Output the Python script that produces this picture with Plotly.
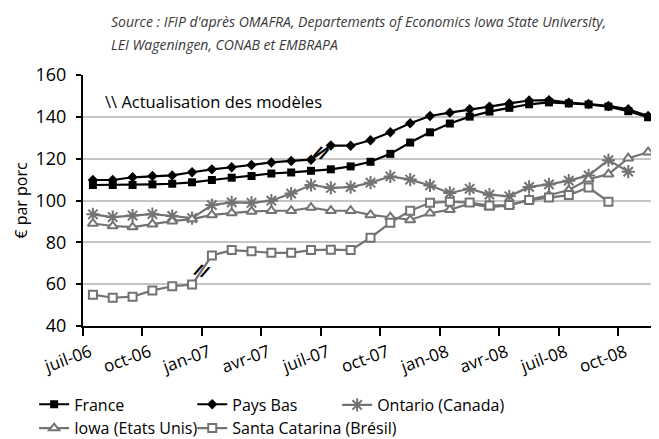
import plotly.graph_objects as go

months = ["juil-06", "août-06", "sept-06", "oct-06", "nov-06", "déc-06",
          "jan-07", "févr-07", "mars-07", "avr-07", "mai-07", "juin-07",
          "juil-07", "août-07", "sept-07", "oct-07", "nov-07", "déc-07",
          "jan-08", "févr-08", "mars-08", "avr-08", "mai-08", "juin-08",
          "juil-08", "août-08", "sept-08", "oct-08", "nov-08"]
tick_labels = ["juil-06", "oct-06", "jan-07", "avr-07", "juil-07", "oct-07",
               "jan-08", "avr-08", "juil-08", "oct-08"]

france = [107.4, 107.4, 107.4, 107.7, 108.0, 108.7, 109.8, 110.9, 111.7, 112.9,
          113.4, 114.2, 114.9, 116.3, 118.5, 122.3, 127.7, 132.6, 136.8, 140.1,
          142.5, 144.3, 146.0, 146.9, 146.4, 145.9, 144.9, 142.7, 139.8]
pays_bas = [109.8, 109.8, 111.1, 111.7, 112.0, 113.5, 114.9, 115.9, 117.0, 118.2,
            118.9, 119.5, 126.3, 126.2, 128.8, 132.6, 136.9, 140.4, 142.0, 143.6,
            144.9, 146.4, 147.8, 148.0, 146.8, 146.1, 145.2, 143.6, 140.4]
ontario = [93.4, 92.1, 92.8, 93.5, 92.6, 91.6, 97.8, 99.1, 98.9, 99.9,
           103.3, 107.4, 106.0, 106.4, 108.5, 111.5, 110.0, 107.2, 103.6, 105.6,
           102.8, 102.0, 106.5, 107.7, 109.5, 112.0, 119.3, 113.8, None]
iowa = [89.0, 87.8, 87.3, 88.7, 90.1, 91.1, 93.1, 94.0, 94.8, 95.1,
        95.1, 96.6, 95.1, 95.1, 93.1, 92.0, 90.7, 93.9, 95.6, 98.5,
        96.8, 97.6, 100.5, 102.5, 105.0, 110.2, 112.6, 120.2, 123.1]
santa_catarina = [55.0, 53.5, 54.0, 57.0, 59.0, 59.8, 73.7, 76.3, 75.7, 75.0,
                  75.0, 76.3, 76.5, 76.3, 82.2, 89.4, 95.1, 98.9, 99.4, 99.0,
                  97.6, 97.8, 100.2, 101.4, 102.6, 106.2, 99.4, None, None]

source_lines = ["Source : IFIP d'après OMAFRA, Departements of Economics Iowa State University,",
                "LEI Wageningen, CONAB et EMBRAPA"]
note_text = "\\\\ Actualisation des modèles"
y_title = "€ par porc"

FONT = "Open Sans"
GRAY = "#737373"

x = [i + 0.5 for i in range(len(months))]
tick_pos = [months.index(t) for t in tick_labels]

series = [
    ("France", france, dict(symbol="square", size=8, color="black"), "black", "legend"),
    ("Pays Bas", pays_bas, dict(symbol="diamond", size=8, color="black"), "black", "legend2"),
    ("Ontario (Canada)", ontario, dict(symbol="asterisk-open", size=11, color=GRAY,
                                       line=dict(color=GRAY, width=2)), GRAY, "legend3"),
    ("Iowa (Etats Unis)", iowa, dict(symbol="triangle-up", size=9, color="white",
                                      line=dict(color=GRAY, width=2)), GRAY, "legend"),
    ("Santa Catarina (Brésil)", santa_catarina, dict(symbol="square", size=8, color="white",
                                                     line=dict(color=GRAY, width=2)), GRAY, "legend2"),
]

fig = go.Figure()
for name, vals, marker, col, lg in series:
    fig.add_trace(go.Scatter(x=x, y=vals, name=name, mode="lines+markers",
                             line=dict(color=col, width=2.2), marker=marker,
                             legend=lg, cliponaxis=False))

# break marks (model update) between two consecutive months
breaks = [(pays_bas, 12), (santa_catarina, 6)]
for vals, idx in breaks:
    fig.add_annotation(x=idx, y=(vals[idx - 1] + vals[idx]) / 2, xref="x", yref="y",
                       text="<b>//</b>", showarrow=False, textangle=20,
                       font=dict(family=FONT, size=17, color="black"))

fig.add_annotation(xref="paper", yref="paper", x=0.035, y=0.896, xanchor="left",
                   yanchor="middle", text=note_text, showarrow=False,
                   font=dict(family=FONT, size=16.5, color="black"))
for ypos, line in zip([1.212, 1.122], source_lines):
    fig.add_annotation(xref="paper", yref="paper", x=0.045, y=ypos, xanchor="left",
                       yanchor="middle", text="<i>" + line + "</i>", showarrow=False,
                       font=dict(family=FONT, size=14, color="#3a3a3a"))

leg = dict(orientation="v", yanchor="middle", xanchor="left", y=-0.36,
           font=dict(family=FONT, size=16), bgcolor="rgba(0,0,0,0)",
           tracegroupgap=0, borderwidth=0)

# page body adds an 8px offset: figure is 8px smaller, margins shifted accordingly
fig.update_layout(
    width=651, height=431,
    margin=dict(l=75, r=1, t=67, b=113, autoexpand=False),
    paper_bgcolor="white", plot_bgcolor="white",
    font=dict(family=FONT, size=16, color="black"),
    showlegend=True,
    legend=dict(leg, x=-0.085),
    legend2=dict(leg, x=0.19),
    legend3=dict(leg, x=0.442, y=-0.315),
    xaxis=dict(range=[0, len(months)], tickmode="array", tickvals=tick_pos, ticktext=tick_labels,
               tickangle=-20, ticks="outside", ticklen=8, tickwidth=1.5, tickcolor="black",
               showline=True, linecolor="black", linewidth=2, showgrid=False, zeroline=False,
               ticklabelshift=7, automargin=False,
               tickfont=dict(family=FONT, size=17, color="black")),
    yaxis=dict(range=[40, 160], dtick=20, ticks="outside", ticklen=5, tickwidth=1.5,
               tickcolor="black", showline=True, linecolor="black", linewidth=2,
               showgrid=True, gridcolor="#c6c6c6", gridwidth=2, zeroline=False,
               ticklabelstandoff=6, automargin=False,
               tickfont=dict(family=FONT, size=18, color="black"),
               title=dict(text=y_title, standoff=4, font=dict(family=FONT, size=16))),
)

fig.write_html("out.html")
